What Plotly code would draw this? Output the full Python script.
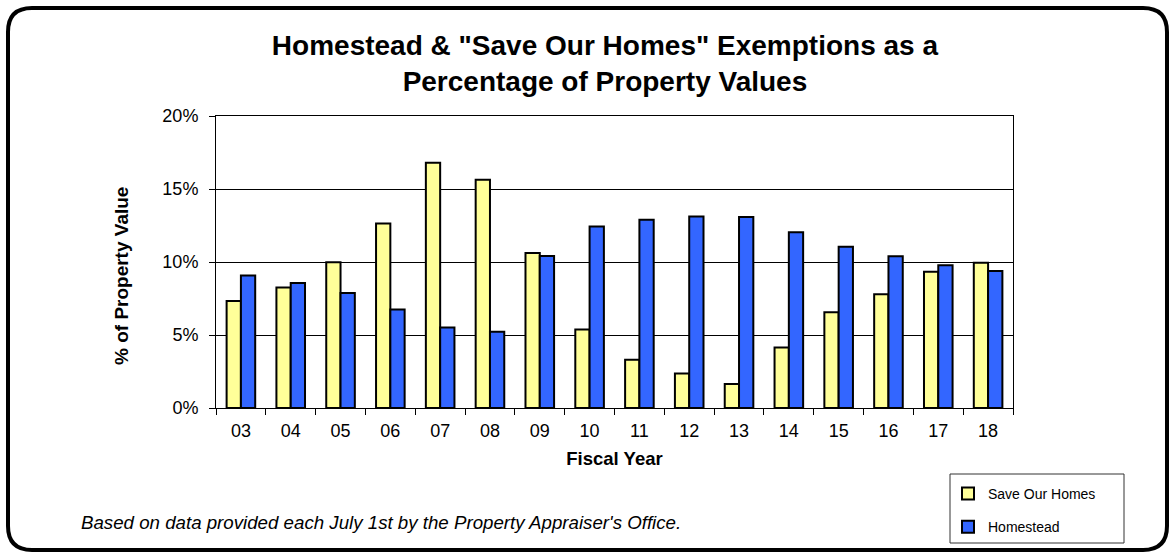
import plotly.graph_objects as go

# Fiscal years and exemption shares (% of property value)
years = ["03", "04", "05", "06", "07", "08", "09", "10",
         "11", "12", "13", "14", "15", "16", "17", "18"]
save_our_homes = [7.33, 8.25, 9.98, 12.64, 16.79, 15.63, 10.62, 5.38,
                  3.30, 2.37, 1.64, 4.15, 6.56, 7.79, 9.34, 9.95]
homestead = [9.07, 8.56, 7.88, 6.74, 5.51, 5.22, 10.41, 12.44,
             12.89, 13.12, 13.08, 12.03, 11.05, 10.39, 9.77, 9.39]
y_ticks = [0, 5, 10, 15, 20]
y_tick_text = [f"{v}%" for v in y_ticks]

W, H = 1171, 557
ML, MR, MT, MB = 216, 158, 116, 149
PW, PH = W - ML - MR, H - MT - MB

FONT = "Liberation Sans, Arial, sans-serif"


def px_x(px):
    return (px - ML) / PW


def px_y(py):
    return (H - MB - py) / PH


def rounded_rect(x0, y0, x1, y1, r):
    """SVG path for a rounded rectangle given in page pixels, in paper units."""
    pts = [
        ("M", [(x0 + r, y0)]),
        ("L", [(x1 - r, y0)]),
        ("Q", [(x1, y0), (x1, y0 + r)]),
        ("L", [(x1, y1 - r)]),
        ("Q", [(x1, y1), (x1 - r, y1)]),
        ("L", [(x0 + r, y1)]),
        ("Q", [(x0, y1), (x0, y1 - r)]),
        ("L", [(x0, y0 + r)]),
        ("Q", [(x0, y0), (x0 + r, y0)]),
    ]
    out = []
    for cmd, coords in pts:
        out.append(cmd + " ".join(f"{px_x(a):.5f},{px_y(b):.5f}" for a, b in coords))
    return " ".join(out) + " Z"


fig = go.Figure()
fig.add_trace(go.Bar(
    x=years, y=save_our_homes, name="Save Our Homes",
    marker=dict(color="#FFFF99", line=dict(color="black", width=2)),
    legendgroup="a",
))
fig.add_trace(go.Bar(
    x=years, y=homestead, name="Homestead",
    marker=dict(color="#3366FF", line=dict(color="black", width=2)),
    legendgroup="b",
))

fig.update_layout(
    width=W, height=H,
    margin=dict(l=ML, r=MR, t=MT, b=MB),
    paper_bgcolor="white", plot_bgcolor="white",
    font=dict(family=FONT, color="black", size=18),
    barmode="group", bargap=0.426, bargroupgap=0,
    title=dict(
        text='Homestead & "Save Our Homes" Exemptions as a<br>Percentage of Property Values',
        x=0.488, xanchor="center", xref="paper",
        y=0.902, yanchor="top", yref="container",
        font=dict(family=FONT, size=28, color="black", weight="bold"),
    ),
    xaxis=dict(
        showline=True, linecolor="black", linewidth=1, mirror=True,
        ticks="outside", ticklen=6, tickcolor="black", tickson="boundaries",
        ticklabelstandoff=6,
        tickfont=dict(size=18),
        title=dict(text="Fiscal Year", font=dict(size=18.5, weight="bold"), standoff=12),
        showgrid=False,
    ),
    yaxis=dict(
        range=[0, 20], tickmode="array", tickvals=y_ticks, ticktext=y_tick_text,
        showline=True, linecolor="black", linewidth=1, mirror=True,
        ticks="outside", ticklen=6, tickcolor="black",
        ticklabelstandoff=7,
        tickfont=dict(size=18),
        showgrid=True, gridcolor="black", gridwidth=1,
        zeroline=False,
    ),
    legend=dict(
        x=px_x(948), xanchor="left", xref="paper",
        y=px_y(478), yanchor="top", yref="paper",
        bgcolor="rgba(0,0,0,0)", borderwidth=0,
        font=dict(size=14), traceorder="grouped", tracegroupgap=12,
        itemwidth=30,
    ),
    showlegend=True,
)

# y-axis title
fig.add_annotation(
    text="<b>% of Property Value</b>", textangle=-90,
    xref="paper", yref="paper", x=px_x(121), y=px_y(276),
    xanchor="center", yanchor="middle", showarrow=False,
    font=dict(family=FONT, size=19, color="black"),
)

# legend frame
fig.add_shape(type="rect", xref="paper", yref="paper",
              x0=px_x(950), x1=px_x(1124), y0=px_y(474), y1=px_y(543),
              line=dict(color="#333333", width=1), fillcolor="rgba(0,0,0,0)", layer="below")

# outer rounded frame
fig.add_shape(type="path", xref="paper", yref="paper",
              path=rounded_rect(8, 8, 1167, 550, 24),
              line=dict(color="black", width=4), fillcolor="rgba(0,0,0,0)")

fig.add_annotation(
    text="Based on data provided each July 1st by the Property Appraiser's Office.",
    xref="paper", yref="paper", x=px_x(79), y=px_y(522),
    xanchor="left", yanchor="middle", showarrow=False,
    font=dict(family=FONT, size=18.7, style="italic", color="black"),
)

fig.write_html("out.html")
